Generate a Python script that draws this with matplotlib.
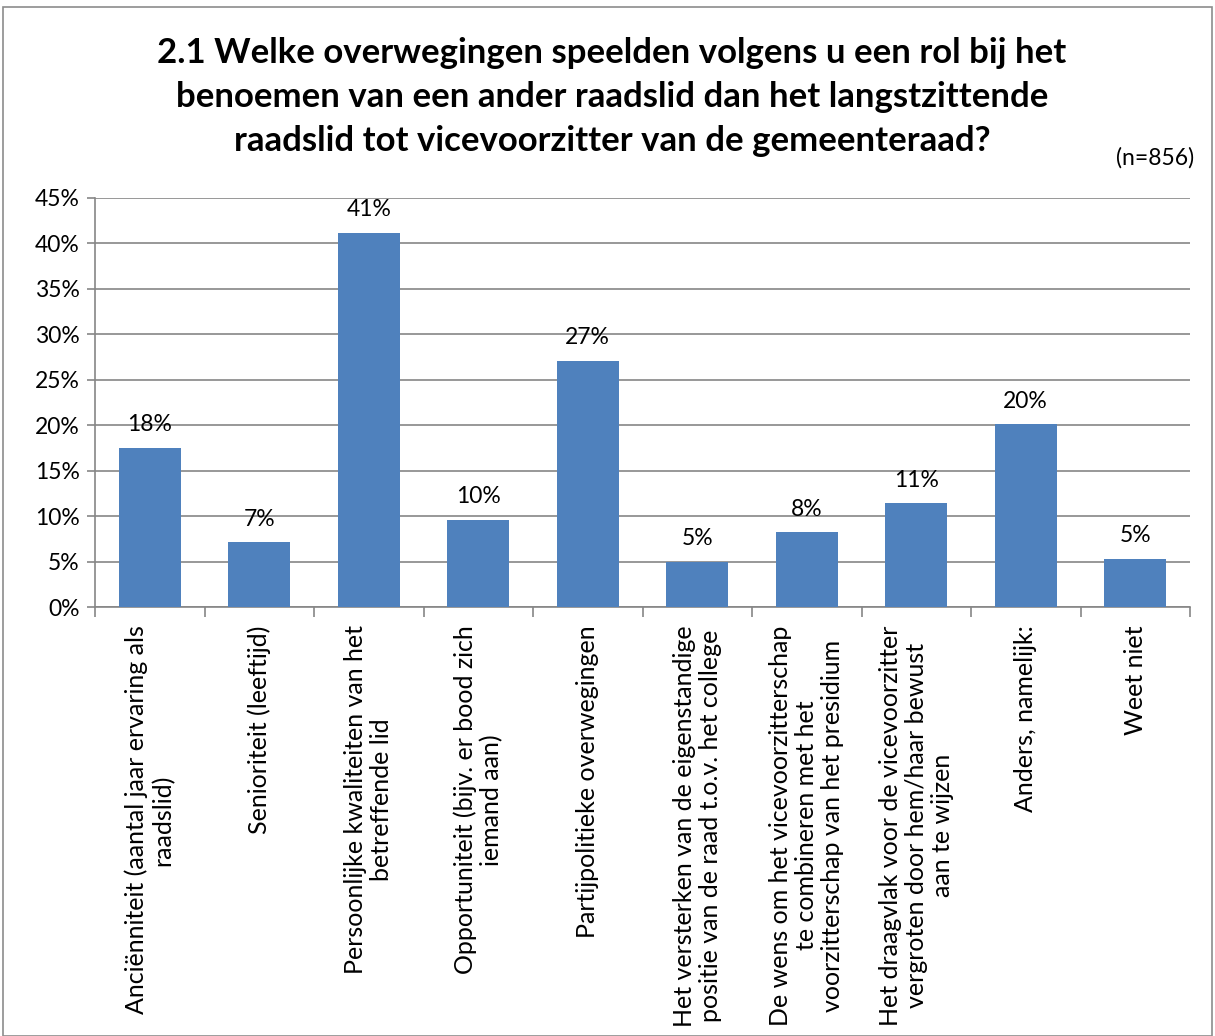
import matplotlib
matplotlib.use("Agg")
import matplotlib.pyplot as plt
from matplotlib.patches import Rectangle

plt.rcParams['font.family'] = ['Lato', 'DejaVu Sans']

categories = [
    "Anciënniteit (aantal jaar ervaring als\nraadslid)",
    "Senioriteit (leeftijd)",
    "Persoonlijke kwaliteiten van het\nbetreffende lid",
    "Opportuniteit (bijv. er bood zich\niemand aan)",
    "Partijpolitieke overwegingen",
    "Het versterken van de eigenstandige\npositie van de raad t.o.v. het college",
    "De wens om het vicevoorzitterschap\nte combineren met het\nvoorzitterschap van het presidium",
    "Het draagvlak voor de vicevoorzitter\nvergroten door hem/haar bewust\naan te wijzen",
    "Anders, namelijk:",
    "Weet niet",
]
values = [17.5, 7.1, 41.2, 9.6, 27.1, 5.0, 8.2, 11.4, 20.1, 5.3]
yticks = [0, 5, 10, 15, 20, 25, 30, 35, 40, 45]
title = ("2.1 Welke overwegingen speelden volgens u een rol bij het\n"
         "benoemen van een ander raadslid dan het langstzittende\n"
         "raadslid tot vicevoorzitter van de gemeenteraad?")
note = "(n=856)"

W, H = 1215, 1036
fig = plt.figure(figsize=(W / 100, H / 100), dpi=100)
fig.patch.set_facecolor("white")
fig.patches.append(Rectangle((3 / W, 0), (W - 6) / W, (H - 7) / H,
                             transform=fig.transFigure, fill=False,
                             edgecolor="#8c8c8c", linewidth=1.2))

ax = fig.add_axes([95 / W, 1 - 607 / H, (1190 - 95) / W, (607 - 198) / H])
x = list(range(len(values)))
bars = ax.bar(x, values, width=0.57, color="#4F81BD", zorder=3)
ax.set_xlim(-0.5, len(values) - 0.5)
ax.set_ylim(0, 45)
ax.set_yticks(yticks)
ax.set_yticklabels([f"{t}%" for t in yticks], fontsize=16.5)
ax.grid(axis="y", color="#868686", linewidth=1.2, zorder=0)
for s in ["top", "right"]:
    ax.spines[s].set_visible(False)
for s in ["left", "bottom"]:
    ax.spines[s].set_color("#868686")
    ax.spines[s].set_linewidth(1.2)
ax.tick_params(axis="y", length=6, color="#868686", width=1.2, pad=5)

# category boundary ticks
ax.set_xticks([i - 0.5 for i in range(len(values) + 1)])
ax.set_xticklabels([])
ax.tick_params(axis="x", length=7, color="#868686", width=1.2)

for i, (v, lab) in enumerate(zip(values, categories)):
    ax.annotate(f"{round(v):d}%", (i, v), xytext=(0, 9), textcoords="offset points",
                ha="center", va="bottom", fontsize=16.5)
    ax.text(i, -0.045, lab, transform=ax.get_xaxis_transform(), rotation=90,
            ha="center", va="top", multialignment="center", fontsize=18,
            linespacing=1.15)

fig.text(612 / W, 1 - 97 / H, title, ha="center", va="center", fontsize=25,
         fontweight="bold", linespacing=1.48)
fig.text(1155 / W, 1 - 158 / H, note, ha="center", va="center", fontsize=16.5)

fig.savefig("out.png", dpi=100)
